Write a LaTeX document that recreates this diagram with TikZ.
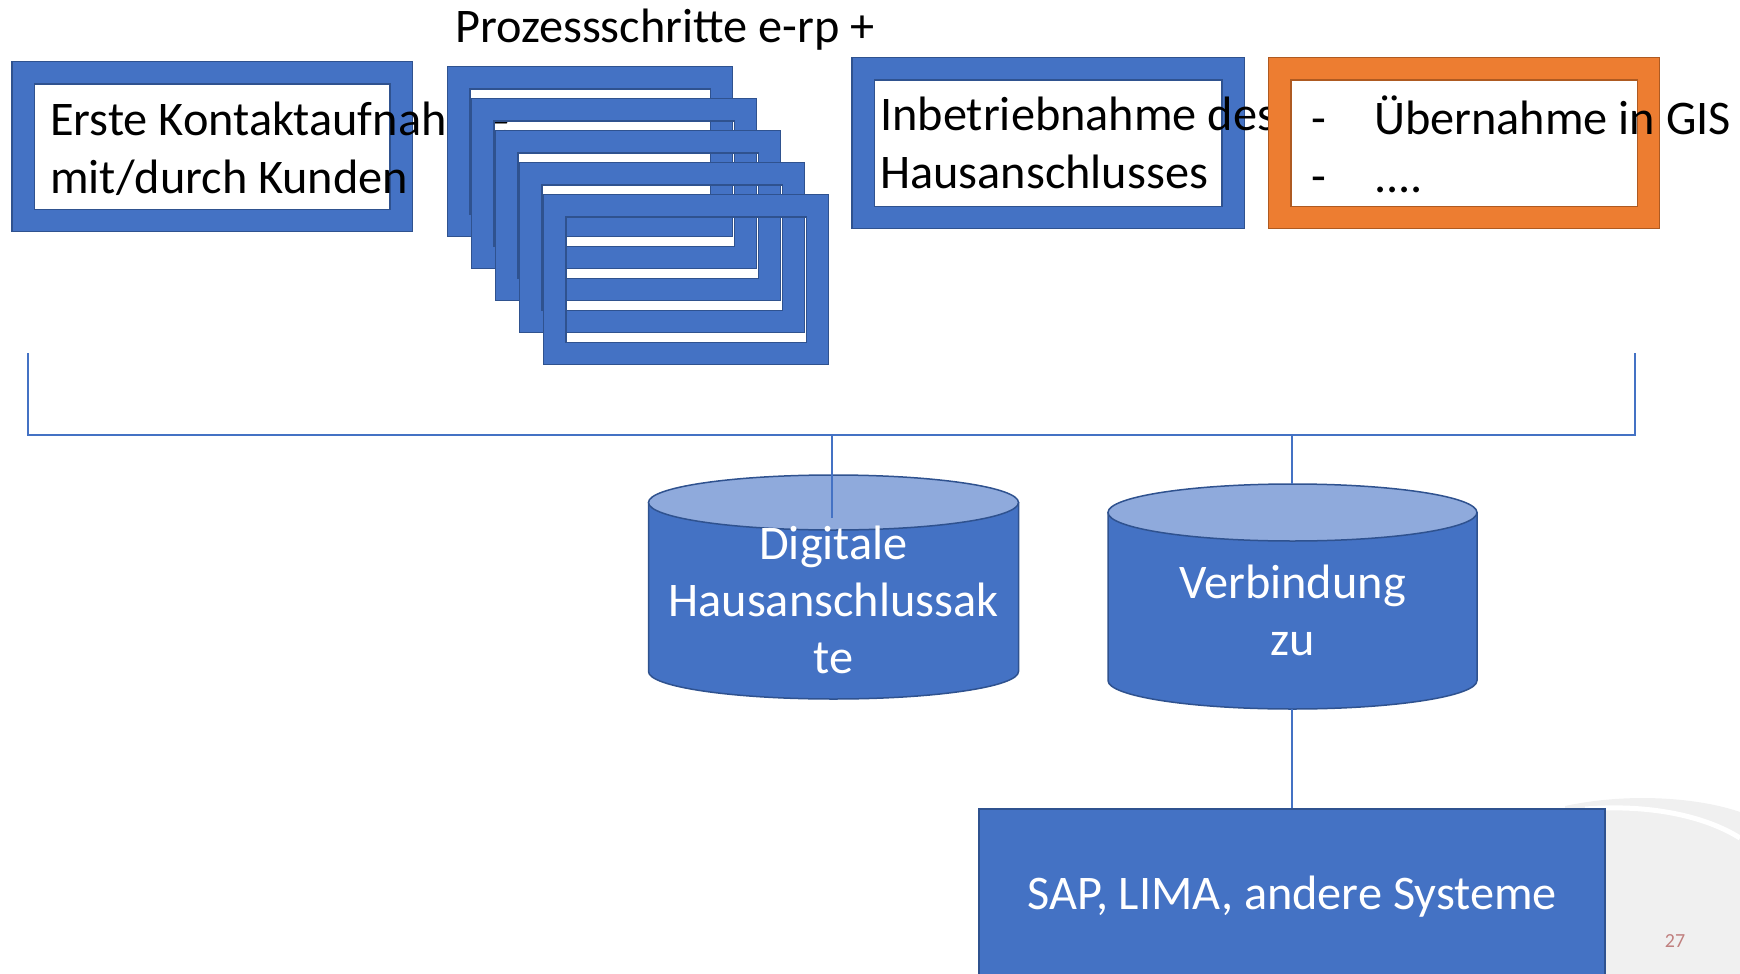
\documentclass[tikz,border=0pt]{standalone}
\usepackage{fontspec}
\setmainfont{Carlito}
\usetikzlibrary{positioning}
\definecolor{frameblue}{HTML}{4472C4}
\definecolor{frameedge}{HTML}{2F528F}
\definecolor{frameorange}{HTML}{ED7D31}
\definecolor{orangeedge}{HTML}{AE5A21}
\definecolor{cyltopblue}{HTML}{8FAADC}
\definecolor{pagenum}{HTML}{C0807F}
\definecolor{swoosh}{HTML}{F0F0F0}
\tikzset{
  hsframe/.style={draw=frameedge, line width=1.2pt, double=frameblue, double distance=21.1pt, inner sep=0pt},
  hsorange/.style={hsframe, draw=orangeedge, double=frameorange},
  boxtext/.style={font=\fontsize{48.3}{58}\selectfont, align=left, anchor=base west, inner sep=0pt},
  cyltext/.style={font=\fontsize{48.3}{57}\selectfont, text=white, align=center, anchor=base, inner sep=0pt},
  cylbody/.style={fill=frameblue, draw=frameedge, line width=1.5pt},
  cyltop/.style={fill=cyltopblue, draw=frameedge, line width=1.5pt},
  link/.style={draw=frameblue, line width=1.5pt}
}

\begin{document}
\begin{tikzpicture}[x=1pt, y=-1pt]
\useasboundingbox (0,0) rectangle (1740,974);
% slide background swoosh
\fill[swoosh] (1565,974) -- (1565,806) .. controls (1630,792) and (1700,798) .. (1740,812) -- (1740,974) -- cycle;
\draw[white, line width=5pt] (1585,809) .. controls (1650,804) and (1705,816) .. (1740,838);

% first step
\node[hsframe, minimum width=378, minimum height=147.5] (kontakt) at (212.2,146.5) {};
\node[boxtext] (kontakttext) at (50,193) {Erste Kontaktaufnahme\\mit/durch Kunden};

% stacked process steps
\node[anchor=base west, inner sep=0pt, font=\fontsize{48.3}{58}\selectfont] (prozess) at (455,43) {Prozessschritte e-rp +};
\foreach \i in {0,...,4}
  \node[hsframe, minimum width=262.5, minimum height=147.5] (schritt\i) at (590+24*\i,151.5+32*\i) {};

% commissioning
\node[hsframe, minimum width=370, minimum height=148.5] (inbetrieb) at (1048.2,143) {};
\node[boxtext] (inbetriebtext) at (880,188) {Inbetriebnahme des\\Hausanschlusses};

\node[hsorange, minimum width=368.5, minimum height=148.5] (gis) at (1464,143) {};
\node[boxtext] (gistext) at (1311,192) {\makebox[63pt][l]{-}Übernahme in GIS\\\makebox[63pt][l]{-}....};

% databases
\filldraw[cylbody] (648.5,502.5) -- (648.5,671.5) arc[start angle=180, end angle=0, x radius=185, y radius=27.5] -- (1018.5,502.5) -- cycle;
\filldraw[cyltop] (833.5,502.5) ellipse [x radius=185, y radius=27.5];
\node[cyltext] (akte) at (833.5,673) {Digitale\\Hausanschlussak\\te};

\filldraw[cylbody] (1108,512.5) -- (1108,680.5) arc[start angle=180, end angle=0, x radius=184.5, y radius=28.5] -- (1477,512.5) -- cycle;
\filldraw[cyltop] (1292.5,512.5) ellipse [x radius=184.5, y radius=28.5];
\node[cyltext] (verbindung) at (1292.5,655) {Verbindung\\zu};

\node[fill=frameblue, draw=frameedge, line width=1.5pt, anchor=north, minimum width=626, minimum height=176,
      text=white, font=\fontsize{48.3}{58}\selectfont] (sap) at (1292,808) {SAP, LIMA, andere Systeme};

% connectors
\coordinate (bl) at (28,353);
\coordinate (br) at (1635,353);
\coordinate (busl) at (28,435);
\coordinate (busr) at (1635,435);
\coordinate (tap1) at (832,435);
\coordinate (tap2) at (1292,435);
\coordinate (aktein) at (832,518);
\coordinate (verbtop) at (1292,484);
\coordinate (verbbottom) at (1292,709);
\draw[link] (bl) -- (busl) -- (busr) -- (br);
\draw[link] (tap1) -- (aktein);
\draw[link] (tap2) -- (verbtop);
\draw[link] (verbbottom) -- (sap.north);

\node[text=pagenum, font=\fontsize{20}{24}\selectfont, anchor=base, inner sep=0pt] (seite) at (1675,947) {27};
\end{tikzpicture}
\end{document}
